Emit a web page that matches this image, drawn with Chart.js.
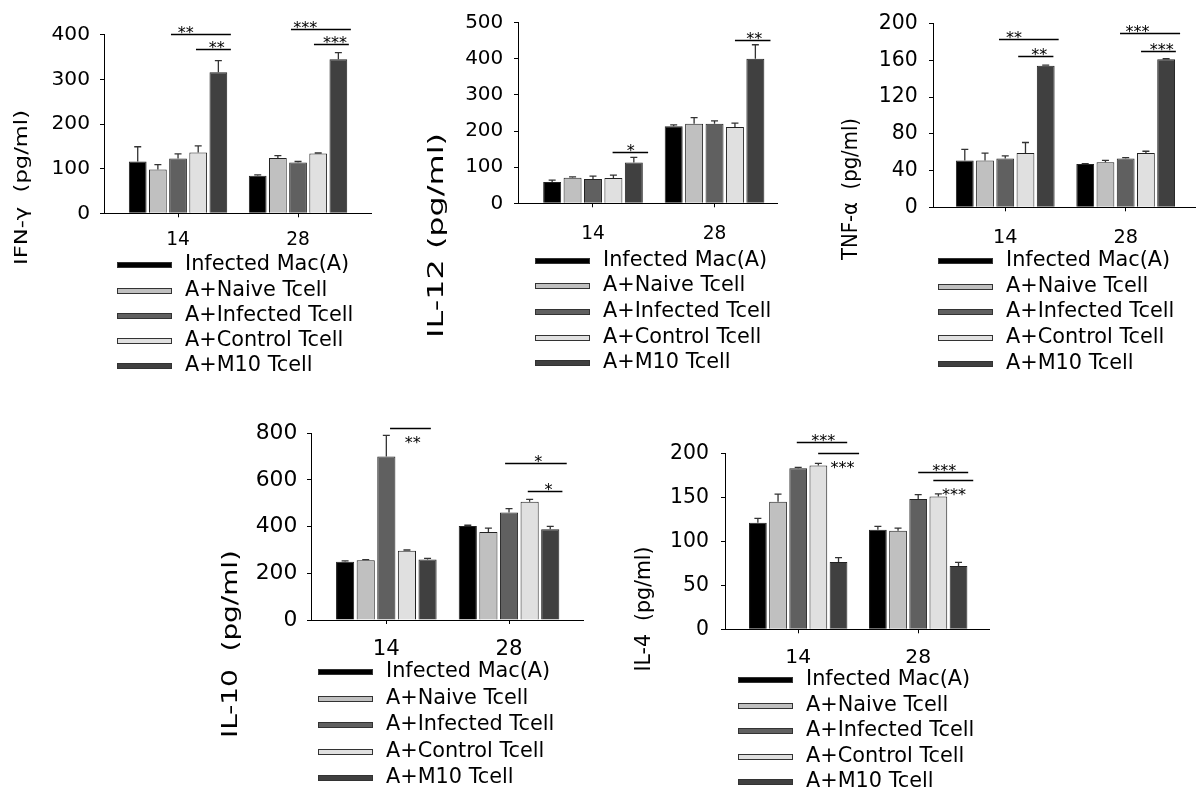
<!DOCTYPE html>
<html>
<head>
<meta charset="utf-8">
<script src="https://cdn.jsdelivr.net/npm/chart.js@4.4.1/dist/chart.umd.min.js"></script>
<style>
    body { margin: 0; background: #fff; }
    #page { position: relative; width: 1196px; height: 792px; overflow: hidden; background: #fff; }
    #page canvas { position: absolute; }
</style>
</head>
<body>
<div id="page"></div>
<script>
// Categories and groups
const days = ['14', '28'];
const groups = ['Infected Mac(A)', 'A+Naive Tcell', 'A+Infected Tcell', 'A+Control Tcell', 'A+M10 Tcell'];
const barColors = ['#000000', '#c0c0c0', '#606060', '#e0e0e0', '#404040'];

// IFN-γ: mean and upper error per group, [day14, day28]
const ifnMeans = [[116, 84], [98, 124], [123, 114], [136, 134], [316, 345]];
const ifnErrors = [[33, 2], [11, 5], [10, 2], [15, 1], [26, 15]];
const ifnTicks = [0, 100, 200, 300, 400];

// IL-12
const il12Means = [[59, 213], [71, 220], [67, 220], [70, 211], [113, 400]];
const il12Errors = [[5, 4], [2, 17], [8, 8], [8, 11], [14, 39]];
const il12Ticks = [0, 100, 200, 300, 400, 500];

// TNF-α
const tnfMeans = [[51, 47], [51, 49], [53, 53], [59, 59], [154, 161]];
const tnfErrors = [[12, 0.5], [8, 2], [3, 1], [11.5, 2], [0.8, 0.7]];
const tnfTicks = [0, 40, 80, 120, 160, 200];

// IL-10
const il10Means = [[250, 403], [256, 377], [701, 461], [297, 507], [259, 389]];
const il10Errors = [[3, 3], [3, 17], [90, 16], [3, 10], [5, 12]];
const il10Ticks = [0, 200, 400, 600, 800];

// IL-4
const il4Means = [[121, 113], [145, 112], [183, 148], [186, 151], [76.5, 72]];
const il4Errors = [[5, 4], [8.5, 3], [1, 5], [2.5, 3], [5, 4]];
const il4Ticks = [0, 50, 100, 150, 200];

// significance: [day, from bar, to bar, value, stars, stars at bar, stars below line]
const ifnSig = [[0, 1.65, 4.62, 401, '**', 2.38, false], [0, 2.89, 4.62, 369, '**', 3.92, false],
                [1, 1.65, 4.62, 412, '***', 2.36, false], [1, 2.79, 4.52, 380, '***', 3.83, false]];
const il12Sig = [[0, 2.96, 4.70, 142, '*', 3.85, false], [1, 3.0, 4.74, 452, '**', 3.94, false]];
const tnfSig = [[0, 1.69, 4.64, 183.5, '**', 2.43, false], [0, 2.64, 4.38, 164.7, '**', 3.68, false],
                [1, 1.72, 4.69, 189.6, '***', 2.58, false], [1, 2.76, 4.48, 169.8, '***', 3.78, false]];
const il10Sig = [[0, 2.18, 4.16, 821, '**', 3.28, true], [1, 1.81, 4.80, 674, '*', 3.42, false],
                 [1, 2.91, 4.59, 554, '*', 3.91, false]];
const il4Sig = [[0, 1.93, 4.43, 212.5, '***', 3.24, false], [0, 2.99, 5.02, 200, '***', 4.20, true],
                [1, 2.0, 4.48, 179, '***', 3.29, false], [1, 2.75, 4.73, 170, '***', 3.77, true]];

const FONT = '"DejaVu Sans", sans-serif';
Chart.defaults.font.family = FONT;
Chart.defaults.color = '#000';

const YW = 70;  // y axis box width
const XH = 40;  // x axis box height

// panel layout: canvas box, plot area, x range, text sizes
const panels = [
    { id: 'ifn', box: [0, 0, 400, 392], area: [104, 34.7, 371, 213.3], xRange: [-0.617, 1.608],
      means: ifnMeans, errors: ifnErrors, ticks: ifnTicks, sig: ifnSig,
      title: 'IFN-γ  (pg/ml)', titleSize: 18, titleLen: 155, titleX: 77.3, titleY: -25.8,
      yFont: 20.2, yPad: 10, xFont: 18.6, xPad: 12, legend: [13, 52, 25.2] },
    { id: 'il12', box: [400, 0, 390, 392], area: [518, 17.3, 777, 203.3], xRange: [-0.617, 1.514],
      means: il12Means, errors: il12Errors, ticks: il12Ticks, sig: il12Sig,
      title: 'IL-12 (pg/ml)', titleSize: 20.5, titleLen: 205, titleX: 75, titleY: 32.2,
      yFont: 20, yPad: 10.7, xFont: 18.6, xPad: 15.5, legend: [17, 57.5, 25.6] },
    { id: 'tnf', box: [790, 0, 406, 392], area: [933, 22, 1196, 207.3], xRange: [-0.600, 1.584],
      means: tnfMeans, errors: tnfErrors, ticks: tnfTicks, sig: tnfSig,
      title: 'TNF-α  (pg/ml)', titleSize: 20.5, titleLen: 142, titleX: 76.3, titleY: -18.3,
      yFont: 20.4, yPad: 11.3, xFont: 19.3, xPad: 15, legend: [5, 53.5, 25.8] },
    { id: 'il10', box: [190, 392, 400, 400], area: [311, 433.3, 583, 620], xRange: [-0.614, 1.603],
      means: il10Means, errors: il10Errors, ticks: il10Ticks, sig: il10Sig,
      title: 'IL-10  (pg/ml)', titleSize: 22, titleLen: 188, titleX: 74.3, titleY: 24,
      yFont: 21.8, yPad: 9.7, xFont: 21.3, xPad: 13, legend: [7, 52, 26.5] },
    { id: 'il4', box: [590, 392, 420, 400], area: [725, 453.3, 989, 629.3], xRange: [-0.610, 1.590],
      means: il4Means, errors: il4Errors, ticks: il4Ticks, sig: il4Sig,
      title: 'IL-4  (pg/ml)', titleSize: 20.5, titleLen: 125, titleX: 75, titleY: -20.3,
      yFont: 20.4, yPad: 12, xFont: 20.3, xPad: 12.7, legend: [13, 51, 25.5] }
];

// error bars, significance lines, legend and stretched y title
function extrasPlugin(p) {
    return {
        id: 'extras',
        afterDatasetsDraw(chart) {
            const ctx = chart.ctx;
            const yScale = chart.scales.y;
            ctx.save();
            ctx.strokeStyle = '#333';
            ctx.lineWidth = 1.3;
            chart.data.datasets.forEach((ds, i) => {
                chart.getDatasetMeta(i).data.forEach((bar, j) => {
                    const top = yScale.getPixelForValue(p.means[i][j] + p.errors[i][j]);
                    ctx.beginPath();
                    ctx.moveTo(bar.x, bar.y);
                    ctx.lineTo(bar.x, top);
                    ctx.moveTo(bar.x - 3.5, top);
                    ctx.lineTo(bar.x + 3.5, top);
                    ctx.stroke();
                });
            });

            ctx.strokeStyle = '#000';
            ctx.fillStyle = '#000';
            ctx.font = '16px ' + FONT;
            ctx.textAlign = 'center';
            ctx.textBaseline = 'alphabetic';
            p.sig.forEach(([day, from, to, val, stars, at, below]) => {
                const first = chart.getDatasetMeta(0).data[day].x;
                const slot = (chart.getDatasetMeta(4).data[day].x - first) / 4;
                const y = Math.round(yScale.getPixelForValue(val)) + 0.5;
                ctx.beginPath();
                ctx.moveTo(first + from * slot, y);
                ctx.lineTo(first + to * slot, y);
                ctx.stroke();
                ctx.fillText(stars, first + at * slot, y + (below ? 19 : 3.5));
            });
            ctx.restore();
        },
        afterDraw(chart) {
            const ctx = chart.ctx;
            const a = chart.chartArea;
            ctx.save();
            // legend
            ctx.font = '20.8px ' + FONT;
            ctx.textAlign = 'left';
            ctx.textBaseline = 'middle';
            chart.data.datasets.forEach((ds, i) => {
                const x = a.left + p.legend[0];
                const y = Math.round(a.bottom + p.legend[1] + i * p.legend[2]);
                ctx.fillStyle = ds.backgroundColor;
                ctx.fillRect(x, y - 3, 55, 6);
                ctx.strokeStyle = '#333';
                ctx.lineWidth = 1;
                ctx.strokeRect(x + 0.5, y - 2.5, 54, 5);
                ctx.fillStyle = '#000';
                ctx.fillText(ds.label, x + 68, y);
            });
            // y title
            ctx.font = p.titleSize + 'px ' + FONT;
            const w = ctx.measureText(p.title).width;
            ctx.translate(a.left - p.titleX, a.bottom + p.titleY);
            ctx.rotate(-Math.PI / 2);
            ctx.scale(p.titleLen / w, 1);
            ctx.textAlign = 'center';
            ctx.textBaseline = 'alphabetic';
            ctx.fillText(p.title, 0, 0);
            ctx.restore();
        }
    };
}

function makePanel(p) {
    const [cx, cy, cw, ch] = p.box;
    const [L, T, R, B] = p.area;
    const canvas = document.createElement('canvas');
    canvas.width = cw;
    canvas.height = ch;
    canvas.style.left = cx + 'px';
    canvas.style.top = cy + 'px';
    document.getElementById('page').appendChild(canvas);

    return new Chart(canvas.getContext('2d'), {
        type: 'bar',
        data: {
            datasets: groups.map((g, i) => ({
                label: g,
                data: p.means[i].map((v, j) => ({ x: j, y: v })),
                backgroundColor: barColors[i],
                borderColor: '#222',
                borderWidth: 1,
                categoryPercentage: 0.84,
                barPercentage: 0.88
            }))
        },
        options: {
            responsive: false,
            maintainAspectRatio: false,
            devicePixelRatio: 1,
            animation: false,
            events: [],
            layout: {
                padding: { left: L - cx - YW, top: T - cy, right: cx + cw - R, bottom: cy + ch - B - XH }
            },
            plugins: { legend: { display: false }, tooltip: { enabled: false } },
            scales: {
                x: {
                    type: 'linear',
                    min: p.xRange[0],
                    max: p.xRange[1],
                    offset: false,
                    afterBuildTicks: s => { s.ticks = days.map((d, i) => ({ value: i })); },
                    afterFit: s => { s.height = XH; },
                    grid: { offset: false, drawOnChartArea: false, tickLength: 4, color: '#000' },
                    border: { display: true, color: '#000', width: 1 },
                    ticks: {
                        autoSkip: false, maxRotation: 0, padding: p.xPad,
                        font: { size: p.xFont }, color: '#000',
                        callback: (v, i) => days[i]
                    }
                },
                y: {
                    min: p.ticks[0],
                    max: p.ticks[p.ticks.length - 1],
                    afterBuildTicks: s => { s.ticks = p.ticks.map(v => ({ value: v })); },
                    afterFit: s => { s.width = YW; },
                    grid: { drawOnChartArea: false, tickLength: 4, color: '#000' },
                    border: { display: true, color: '#000', width: 1 },
                    ticks: { padding: p.yPad, font: { size: p.yFont }, color: '#000' }
                }
            }
        },
        plugins: [extrasPlugin(p)]
    });
}

panels.forEach(makePanel);
</script>
</body>
</html>
